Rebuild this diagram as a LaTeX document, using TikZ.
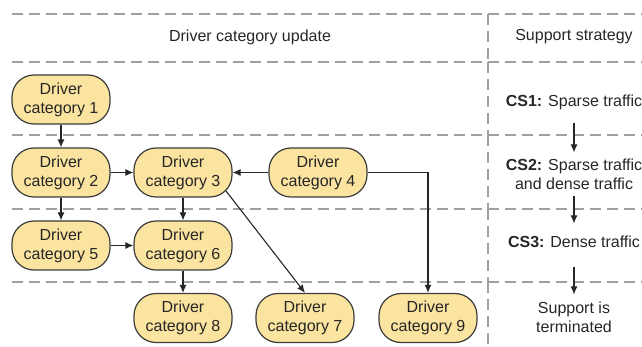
\documentclass[tikz,border=0pt]{standalone}
\usepackage{fontspec}
\setmainfont{Liberation Sans}
\usetikzlibrary{arrows.meta,calc}
\definecolor{catfill}{RGB}{251,227,160}
\definecolor{catdraw}{RGB}{60,60,60}
\definecolor{lanegray}{RGB}{160,160,160}

\begin{document}
\begin{tikzpicture}[x=1pt,y=-1pt,
  cat/.style={draw=catdraw, line width=1.2pt, fill=catfill, rounded corners=22pt,
    minimum width=98pt, minimum height=49pt, align=center, inner sep=0pt,
    font=\fontsize{16}{19}\selectfont, text=black!85},
  lane/.style={lanegray, line width=1.5pt, dash pattern=on 11pt off 6pt},
  link/.style={-{Latex[length=8pt,width=7pt]}, line width=1.1pt, black!85},
  txt/.style={align=center, inner sep=0pt, font=\fontsize{16}{19}\selectfont, text=black!85}]
\useasboundingbox (0,0) rectangle (642,347);

% swim lanes
\foreach \ya/\yb in {14/62, 62/135, 135/209, 209/282, 282/347} {
	\draw[lane] (12,\ya) -- (488,\ya);
	\draw[lane] (488,\ya) -- (642,\ya);
	\draw[lane] (488,\ya) -- (488,\yb);
}

\node[txt] (hdrL) at (250,37) {Driver category update};
\node[txt] (hdrR) at (574,37) {Support strategy};

% driver categories
\node[cat] (c1) at (61,99.5) {Driver\\category 1};
\node[cat] (c2) at (61,172.5) {Driver\\category 2};
\node[cat] (c3) at (183,172.5) {Driver\\category 3};
\node[cat] (c4) at (318,172.5) {Driver\\category 4};
\node[cat] (c5) at (61,245.5) {Driver\\category 5};
\node[cat] (c6) at (183,245.5) {Driver\\category 6};
\node[cat] (c8) at (183,318) {Driver\\category 8};
\node[cat] (c7) at (305,318) {Driver\\category 7};
\node[cat] (c9) at (428,318) {Driver\\category 9};

\draw[link] (c1) -- (c2);
\draw[link] (c2) -- (c3);
\draw[link] (c4) -- (c3);
\draw[link] (c2) -- (c5);
\draw[link] (c3) -- (c6);
\draw[link] (c5) -- (c6);
\draw[link] (c6) -- (c8);
\draw[link] ($(c3.south east)+(-6.5,-6.5)$) -- (c7.north);
\draw[link] (c4.east) -| (c9.north);

% support strategy
\node[txt] (cs1) at (574,102) {\textbf{CS1:} Sparse traffic};
\node[txt] (cs2) at (574,174.5) {\textbf{CS2:} Sparse traffic\\and dense traffic};
\node[txt] (cs3) at (574,242) {\textbf{CS3:} Dense traffic};
\node[txt] (cs4) at (574,317.5) {Support is\\terminated};

\draw[link] ([yshift=-13.5pt]cs1.south) -- ([yshift=6.5pt]cs2.north);
\draw[link] ([yshift=-5.5pt]cs2.south) -- ([yshift=12.5pt]cs3.north);
\draw[link] ([yshift=-18.5pt]cs3.south) -- ([yshift=7.5pt]cs4.north);

\end{tikzpicture}
\end{document}
